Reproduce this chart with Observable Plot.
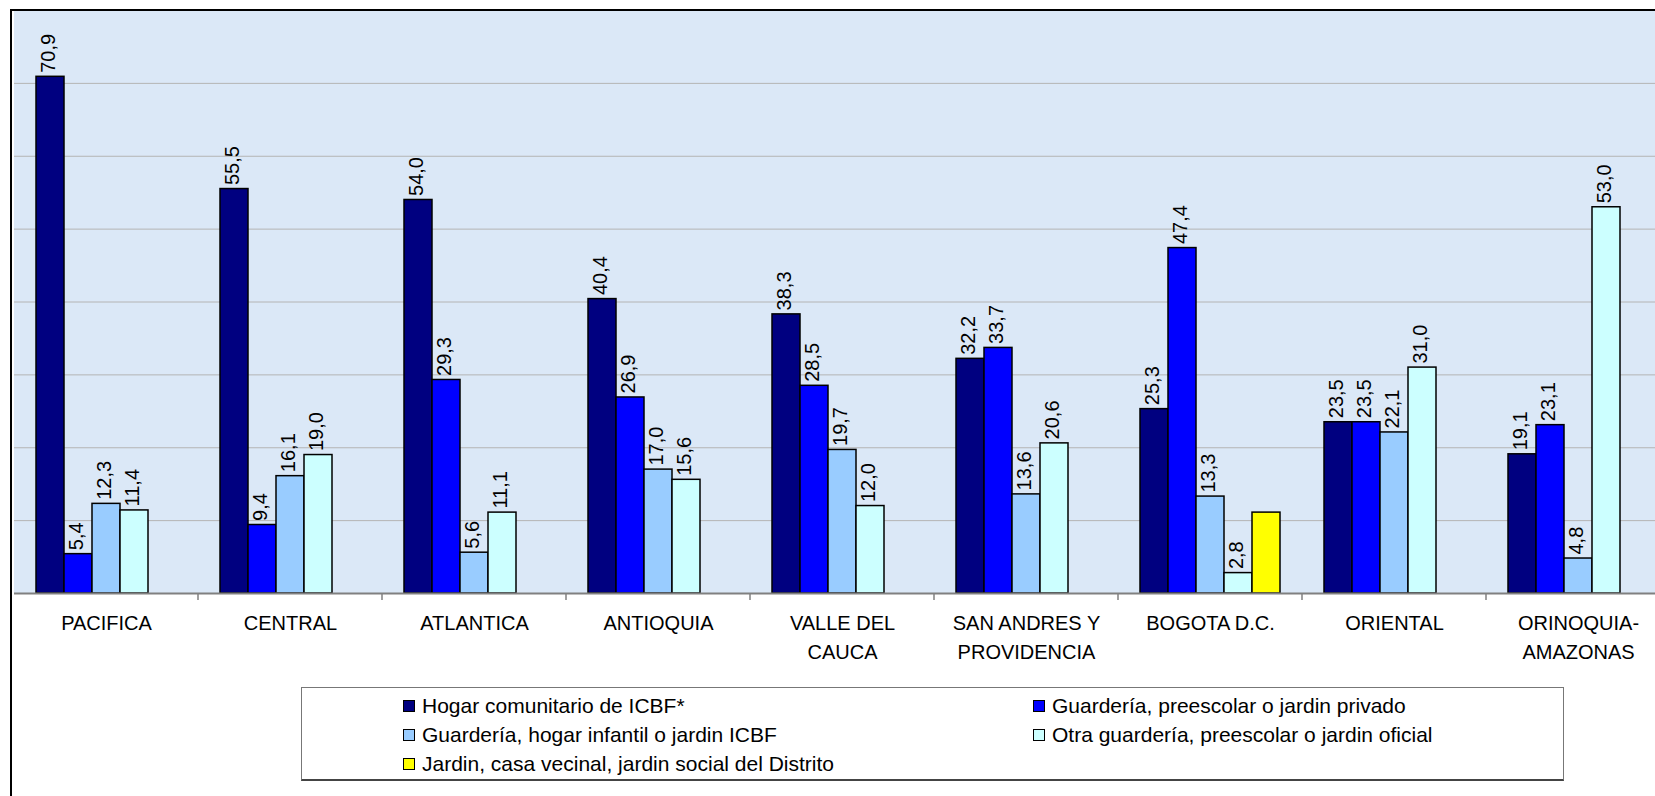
<!DOCTYPE html>
<html><head><meta charset="utf-8">
<script src="https://cdn.jsdelivr.net/npm/d3@7"></script>
<script src="https://cdn.jsdelivr.net/npm/@observablehq/plot@0.6"></script>
<style>
html,body{margin:0;padding:0;background:#fff;overflow:hidden;width:1655px;height:796px;}
#wrap{position:relative;width:1655px;height:796px;overflow:hidden;font-family:"Liberation Sans",Arial,sans-serif;}
#chart{position:absolute;left:0;top:0;width:1680px;}
#chart svg{max-width:none !important;}
#border{position:absolute;left:10px;top:9px;width:2000px;height:2000px;border-left:2px solid #000;border-top:2px solid #000;pointer-events:none;}
#legend{position:absolute;left:301px;top:687px;width:1263px;height:94px;border:1.5px solid #777;border-bottom:2px solid #444;box-sizing:border-box;background:#fff;}
.item{position:absolute;display:flex;align-items:center;height:29px;font-size:21px;color:#000;white-space:nowrap;}
.sw{width:10px;height:10px;border:1.5px solid #000;margin-right:7px;flex:none;}
</style>
</head><body>
<div id="wrap"><div id="chart"></div><div id="border"></div><div id="legend"></div></div>
<script>
const categories = ["PACIFICA","CENTRAL","ATLANTICA","ANTIOQUIA","VALLE DEL\nCAUCA","SAN ANDRES Y\nPROVIDENCIA","BOGOTA D.C.","ORIENTAL","ORINOQUIA-\nAMAZONAS"];
const series = ["Hogar comunitario de ICBF*","Guardería, preescolar o jardin privado","Guardería, hogar infantil o jardin ICBF","Otra guardería, preescolar o jardin oficial","Jardin, casa vecinal, jardin social del Distrito"];
const colors = ["#000080","#0000ff","#99ccff","#ccffff","#ffff00"];
const hogarICBF   = [70.9,55.5,54.0,40.4,38.3,32.2,25.3,23.5,19.1];
const privado     = [5.4,9.4,29.3,26.9,28.5,33.7,47.4,23.5,23.1];
const jardinICBF  = [12.3,16.1,5.6,17.0,19.7,13.6,13.3,22.1,4.8];
const oficial     = [11.4,19.0,11.1,15.6,12.0,20.6,2.8,31.0,53.0];
const distrito    = [null,null,null,null,null,null,11.1,null,null];
const yTicks = [10,20,30,40,50,60,70];

const values = [hogarICBF, privado, jardinICBF, oficial, distrito];
const data = [];
categories.forEach((c,i) => series.forEach((s,j) => {
  const v = values[j][i];
  if (v != null) data.push({cat: c, series: s, value: v, labeled: j < 4});
}));
const fmt = v => v.toFixed(1).replace(".", ",");

const plot = Plot.plot({
  width: 1680, height: 796,
  marginTop: 10, marginBottom: 203, marginLeft: 11, marginRight: 8,
  style: {fontFamily: "Liberation Sans, Arial, sans-serif", background: "transparent", color: "#000", maxWidth: "none"},
  fx: {domain: categories, padding: 0, label: null},
  x: {domain: series, paddingInner: 0, paddingOuter: 0.76, axis: null},
  y: {domain: [0, 80], axis: null},
  color: {domain: series, range: colors},
  marks: [
    Plot.frame({fill: "#dbe8f7", stroke: "#dbe8f7"}),
    Plot.gridY(yTicks, {stroke: "#b4b4b4", strokeOpacity: 1, strokeWidth: 1}),
    Plot.barY(data, {fx: "cat", x: "series", y: "value", fill: "series", stroke: "#000", strokeWidth: 1.5}),
    Plot.ruleY([0], {stroke: "#808080", strokeWidth: 2}),
    Plot.text(data.filter(d => d.labeled), {fx: "cat", x: "series", y: "value", text: d => fmt(d.value),
      rotate: -90, textAnchor: "start", lineAnchor: "middle", dy: -4, dx: -2, fontSize: 20, fill: "#000"}),
    Plot.axisFx({anchor: "bottom", tickSize: 0, tickPadding: 16, fontSize: 20, lineHeight: 1.45, label: null})
  ]
});
document.getElementById("chart").appendChild(plot);

// tick marks between categories
const fxs = plot.scale("fx");
const y0 = plot.scale("y").apply(0);
const g = d3.select(plot).append("g").attr("stroke", "#808080").attr("stroke-width", 1.5);
categories.forEach(c => {
  const xb = fxs.apply(c) + fxs.bandwidth;
  g.append("line").attr("x1", xb).attr("x2", xb).attr("y1", y0).attr("y2", y0 + 7);
});

// legend
const leg = document.getElementById("legend");
series.forEach((s, i) => {
  const col = i % 2, row = Math.floor(i / 2);
  const it = document.createElement("div");
  it.className = "item";
  it.style.left = (101 + col * 630) + "px";
  it.style.top = (3 + row * 29) + "px";
  const sw = document.createElement("span");
  sw.className = "sw"; sw.style.background = colors[i];
  const tx = document.createElement("span");
  tx.textContent = s;
  it.appendChild(sw); it.appendChild(tx);
  leg.appendChild(it);
});
</script>
</body></html>
